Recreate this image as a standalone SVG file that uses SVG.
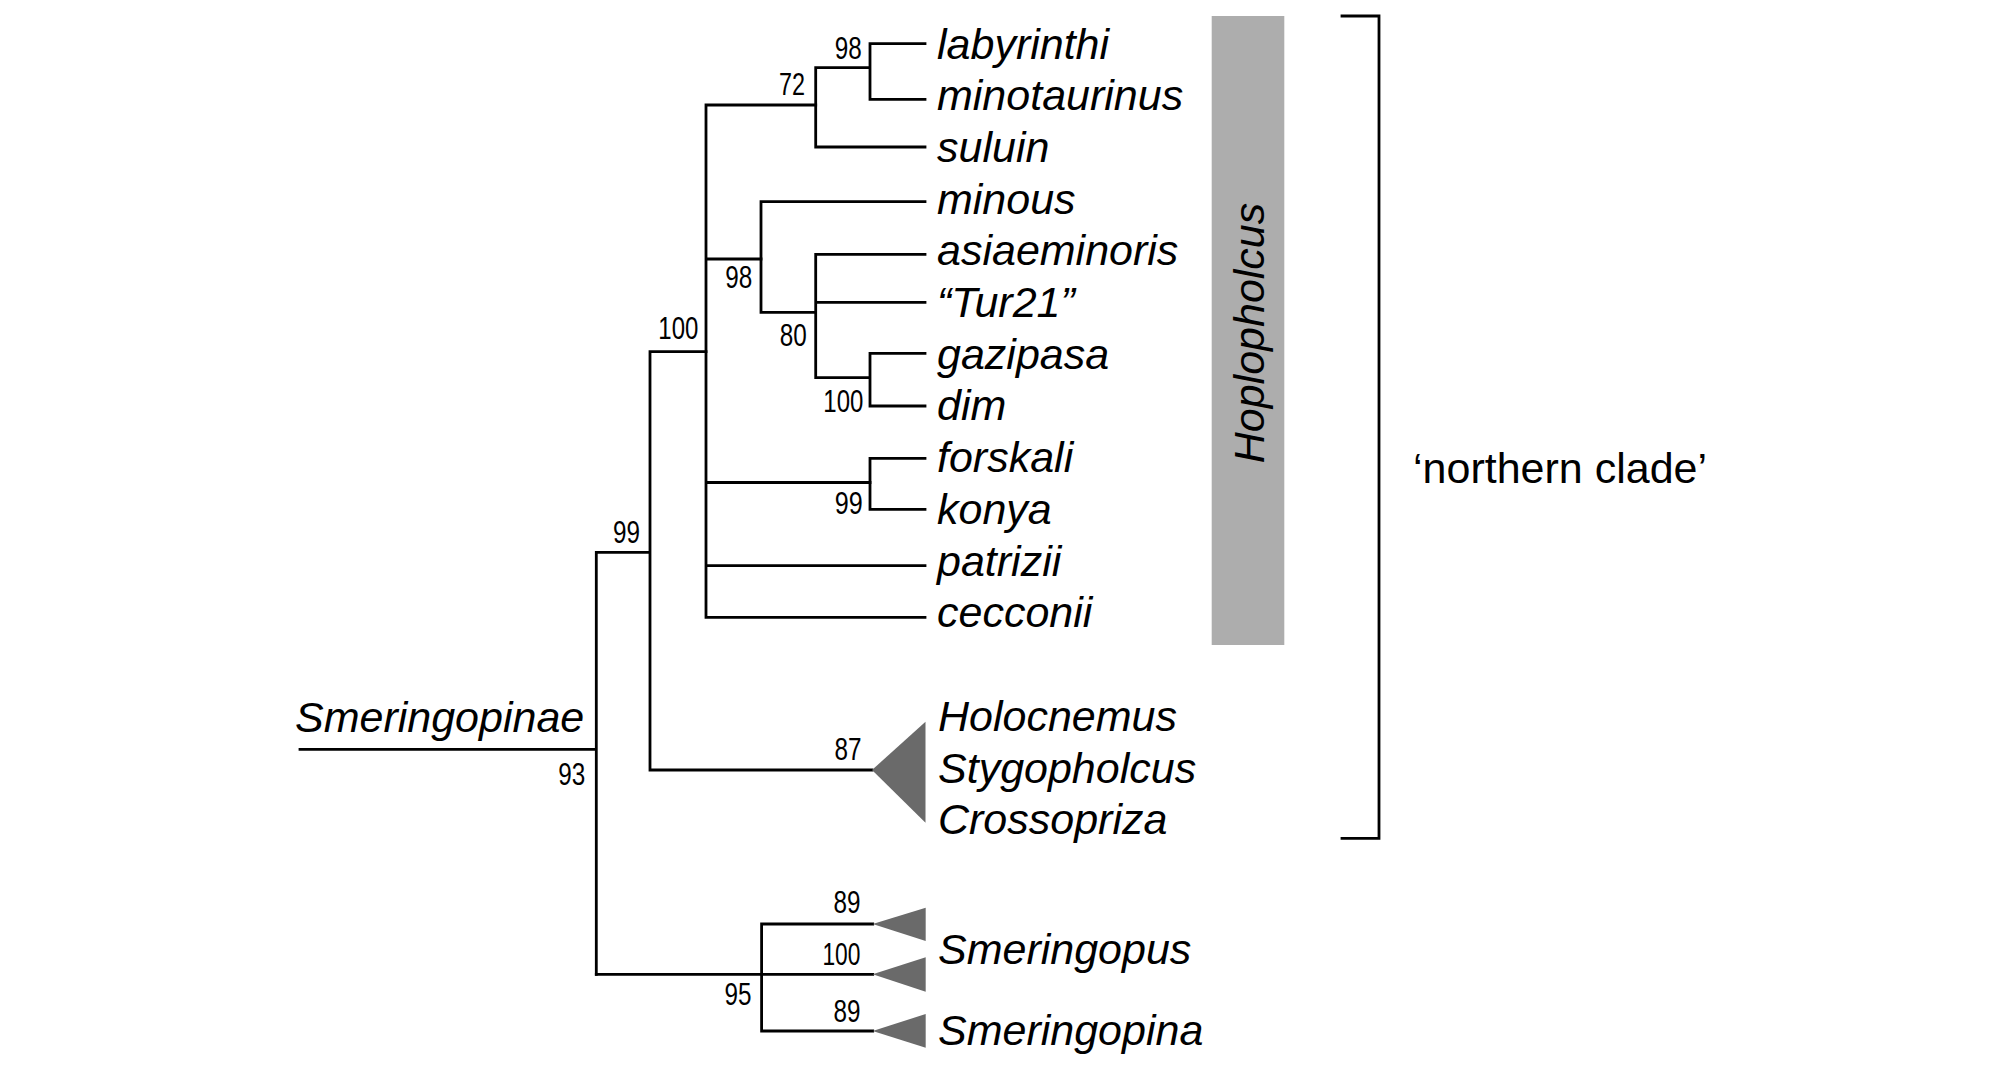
<svg xmlns="http://www.w3.org/2000/svg" width="2008" height="1075" viewBox="0 0 2008 1075">
<style>
.br{fill:none;stroke:#000;stroke-width:2.8;stroke-linecap:square;stroke-linejoin:miter}
.tx{font-family:"Liberation Sans",Arial,sans-serif;font-style:italic;font-size:43px;fill:#000}
.bs{font-family:"Liberation Sans",Arial,sans-serif;font-size:31px;fill:#000;text-anchor:end}
.tri{fill:#6a6a6a}
</style>
<rect width="2008" height="1075" fill="#fff"/>
<g id="connectors">
<path class="br" d="M300,749.3H596.3M596.3,552.3V974.3M596.3,552.3H650M650,351.7V770M650,770H872M650,351.7H706"/>
<path class="br" d="M706,105V617.3M706,105H815.7M706,259H761M706,482.5H870M706,565.7H925M706,617.3H925"/>
<path class="br" d="M815.7,67.7V147M815.7,67.7H870M815.7,147H925M870,43.7V99.3M870,43.7H925M870,99.3H925"/>
<path class="br" d="M761,201.7V312.3M761,201.7H925M761,312.3H815.7M815.7,254.3V377.7M815.7,254.3H925M815.7,302.3H925M815.7,377.7H870M870,353.3V406M870,353.3H925M870,406H925"/>
<path class="br" d="M870,458.3V509.3M870,458.3H925M870,509.3H925"/>
<path class="br" d="M596.3,974.3H761.6M761.6,924V1031M761.6,924H872.7M761.6,974.3H872.7M761.6,1031H872.7"/>
</g>
<g id="collapsed-clades">
<polygon id="clade-holocnemus" class="tri" points="872,770 925.5,721.7 925.5,822.7"/>
<polygon id="clade-smeringopus-1" class="tri" points="872.7,924 925.7,907.7 925.7,941"/>
<polygon id="clade-smeringopus-2" class="tri" points="872.7,974.3 925.7,957.3 925.7,991.7"/>
<polygon id="clade-smeringopina" class="tri" points="872.7,1031 925.7,1014 925.7,1047.7"/>
</g>
<g id="taxa">
<text class="tx" x="937" y="58.5">labyrinthi</text>
<text class="tx" x="937" y="110.2">minotaurinus</text>
<text class="tx" x="937" y="161.9">suluin</text>
<text class="tx" x="937" y="213.6">minous</text>
<text class="tx" x="937" y="265.3">asiaeminoris</text>
<text class="tx" x="937" y="317">“Tur21”</text>
<text class="tx" x="937" y="368.7">gazipasa</text>
<text class="tx" x="937" y="420.4">dim</text>
<text class="tx" x="937" y="472.1">forskali</text>
<text class="tx" x="937" y="523.8">konya</text>
<text class="tx" x="937" y="575.5">patrizii</text>
<text class="tx" x="937" y="627.2">cecconii</text>
<text class="tx" x="938" y="730.7">Holocnemus</text>
<text class="tx" x="938" y="782.7">Stygopholcus</text>
<text class="tx" x="938" y="834">Crossopriza</text>
<text class="tx" x="938" y="964.3">Smeringopus</text>
<text class="tx" x="938" y="1045">Smeringopina</text>
<text class="tx" x="295" y="731.7">Smeringopinae</text>
</g>
<g id="support">
<text class="bs" x="861.7" y="59.3" textLength="27" lengthAdjust="spacingAndGlyphs">98</text>
<text class="bs" x="805" y="95" textLength="26" lengthAdjust="spacingAndGlyphs">72</text>
<text class="bs" x="752.3" y="288.3" textLength="27" lengthAdjust="spacingAndGlyphs">98</text>
<text class="bs" x="806.7" y="346" textLength="27" lengthAdjust="spacingAndGlyphs">80</text>
<text class="bs" x="863.3" y="411.7" textLength="40" lengthAdjust="spacingAndGlyphs">100</text>
<text class="bs" x="862.7" y="514.3" textLength="28" lengthAdjust="spacingAndGlyphs">99</text>
<text class="bs" x="698.3" y="339" textLength="40" lengthAdjust="spacingAndGlyphs">100</text>
<text class="bs" x="640" y="543.3" textLength="27" lengthAdjust="spacingAndGlyphs">99</text>
<text class="bs" x="585.3" y="785" textLength="27" lengthAdjust="spacingAndGlyphs">93</text>
<text class="bs" x="861.6" y="760" textLength="27" lengthAdjust="spacingAndGlyphs">87</text>
<text class="bs" x="860.4" y="912.7" textLength="27" lengthAdjust="spacingAndGlyphs">89</text>
<text class="bs" x="860.4" y="965" textLength="38" lengthAdjust="spacingAndGlyphs">100</text>
<text class="bs" x="751.4" y="1005" textLength="27" lengthAdjust="spacingAndGlyphs">95</text>
<text class="bs" x="860.4" y="1021.7" textLength="27" lengthAdjust="spacingAndGlyphs">89</text>
</g>
<g id="hoplopholcus">
<rect x="1211.7" y="16" width="72.6" height="629" fill="#adadad"/>
<text class="tx" transform="translate(1264,333) rotate(-90)" text-anchor="middle">Hoplopholcus</text>
</g>
<g id="northern-clade">
<path class="br" d="M1342,16H1379V838.3H1342"/>
<text x="1413" y="482.5" font-family="'Liberation Sans',Arial,sans-serif" font-size="43">‘northern clade’</text>
</g>
</svg>
